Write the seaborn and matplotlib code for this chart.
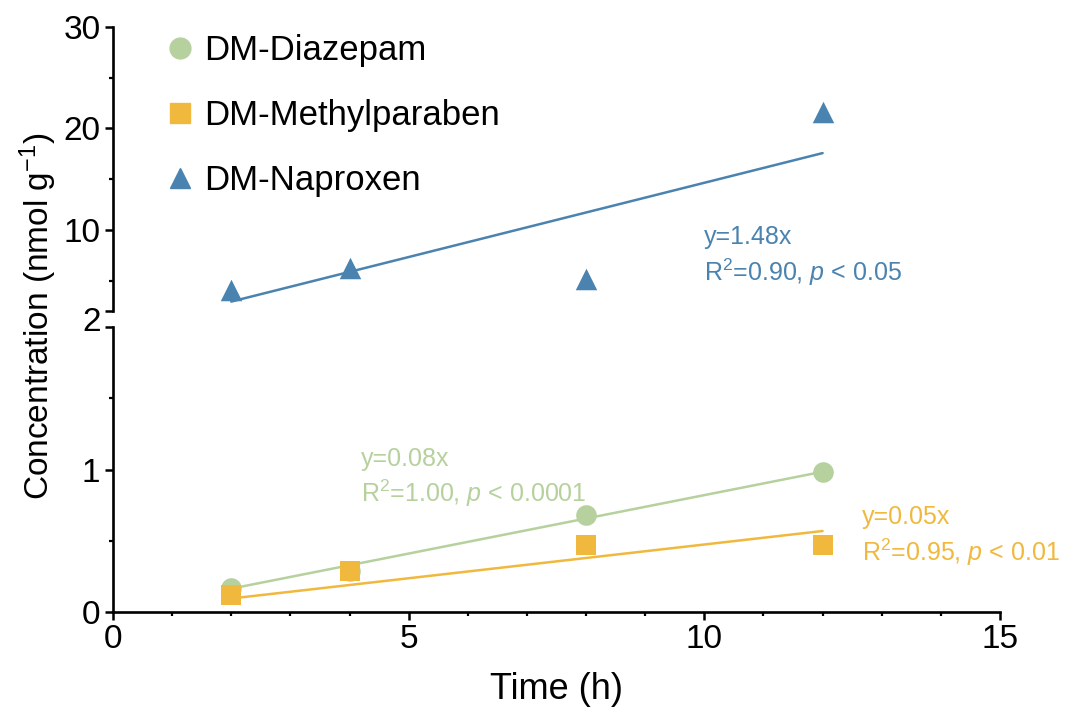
import numpy as np
import pandas as pd
import matplotlib
matplotlib.use("Agg")
import matplotlib.pyplot as plt
import matplotlib.transforms as mtransforms
from matplotlib.lines import Line2D
import seaborn as sns

# data
time_h = [2, 4, 8, 12]
diazepam = [0.17, 0.29, 0.68, 0.98]
methylparaben = [0.12, 0.29, 0.47, 0.47]
naproxen = [4.1, 6.2, 5.2, 21.6]

names = ["DM-Diazepam", "DM-Methylparaben", "DM-Naproxen"]
colors = ["#b6d19d", "#f0b93e", "#4a83af"]
markers = ["o", "s", "^"]
fit_text = ["y=0.08x\nR$^2$=1.00, $p$ < 0.0001",
            "y=0.05x\nR$^2$=0.95, $p$ < 0.01",
            "y=1.48x\nR$^2$=0.90, $p$ < 0.05"]

sns.set_style("ticks")
plt.rcParams['font.family'] = ['Liberation Sans', 'DejaVu Sans']
plt.rcParams['mathtext.fontset'] = 'custom'
plt.rcParams['mathtext.rm'] = 'Liberation Sans'
plt.rcParams['mathtext.it'] = 'Liberation Sans:italic'
for key in ['text.color', 'axes.labelcolor', 'xtick.color', 'ytick.color', 'axes.edgecolor']:
    plt.rcParams[key] = 'black'


def fit_origin(x, y):
    # least squares line through the origin
    x = np.asarray(x, float)
    y = np.asarray(y, float)
    return (x * y).sum() / (x * x).sum()


def style_axis(ax):
    for s in ["top", "right"]:
        ax.spines[s].set_visible(False)
    ax.spines["left"].set_linewidth(1.9)
    ax.spines["bottom"].set_linewidth(1.9)
    ax.tick_params(which="major", length=6, width=1.8, labelsize=24, pad=3)
    ax.tick_params(which="minor", length=3, width=1.6)


fig = plt.figure(figsize=(10.71, 7.15), dpi=100)
left, width = 113 / 1071, 887 / 1071
ax_bot = fig.add_axes([left, 1 - 612 / 715, width, (612 - 327) / 715])
ax_top = fig.add_axes([left, 1 - 311 / 715, width, (311 - 27) / 715])

series = [diazepam, methylparaben, naproxen]
axes_for = [ax_bot, ax_bot, ax_top]
sizes = [220, 200, 240]

for vals, name, col, mk, ax, sz in zip(series, names, colors, markers, axes_for, sizes):
    df = pd.DataFrame({"Time": time_h, "Conc": vals})
    k = fit_origin(time_h, vals)
    line_df = pd.DataFrame({"Time": [time_h[0], time_h[-1]],
                            "Conc": [k * time_h[0], k * time_h[-1]]})
    sns.lineplot(data=line_df, x="Time", y="Conc", ax=ax, color=col,
                 linewidth=1.8, zorder=2)
    sns.scatterplot(data=df, x="Time", y="Conc", ax=ax, color=col, marker=mk,
                    s=sz, linewidth=0, zorder=3)

# bottom panel
style_axis(ax_bot)
ax_bot.set_xlim(0, 15)
ax_bot.set_ylim(0, 2)
ax_bot.set_xticks([0, 5, 10, 15])
ax_bot.set_xticks(np.arange(0, 16, 1), minor=True)
ax_bot.set_yticks([0, 1, 2])
ax_bot.set_yticks([0.5, 1.5], minor=True)
ax_bot.set_xlabel("Time (h)", fontsize=26, labelpad=12)
ax_bot.set_ylabel("")
for lab in ax_bot.get_yticklabels():
    if lab.get_text() == "2":
        lab.set_transform(lab.get_transform() +
                          mtransforms.ScaledTranslation(0, 6 / 72, fig.dpi_scale_trans))

# top panel
style_axis(ax_top)
ax_top.spines["bottom"].set_visible(False)
ax_top.set_xlim(0, 15)
ax_top.set_ylim(2, 30)
ax_top.set_xticks([])
ax_top.set_xlabel("")
ax_top.set_ylabel("")
ax_top.set_yticks([2, 10, 20, 30])
ax_top.set_yticklabels(["", "10", "20", "30"])
ax_top.set_yticks([5, 15, 25], minor=True)
ax_top.tick_params(axis="x", which="both", bottom=False)

fig.text(38 / 1071, 1 - 316 / 715, "Concentration (nmol g$^{-1}$)",
         rotation=90, ha="center", va="center", fontsize=24)

# fit annotations
ax_bot.text(4.2, 1.16, fit_text[0], color=colors[0], fontsize=18,
            va="top", ha="left", linespacing=1.3)
ax_bot.text(12.67, 0.75, fit_text[1], color=colors[1], fontsize=18,
            va="top", ha="left", linespacing=1.3)
ax_top.text(10.0, 10.5, fit_text[2], color=colors[2], fontsize=18,
            va="top", ha="left", linespacing=1.3)

# legend
handles = [Line2D([], [], linestyle="none", marker=m, color=c, markersize=ms)
           for m, c, ms in zip(markers, colors, [15, 14, 15])]
ax_top.legend(handles, names, loc="upper left", bbox_to_anchor=(0.04, 1.025),
              frameon=False, fontsize=25, labelspacing=0.93, handletextpad=0.2,
              handlelength=1.0, borderaxespad=0)

fig.savefig("out.png", dpi=100)
